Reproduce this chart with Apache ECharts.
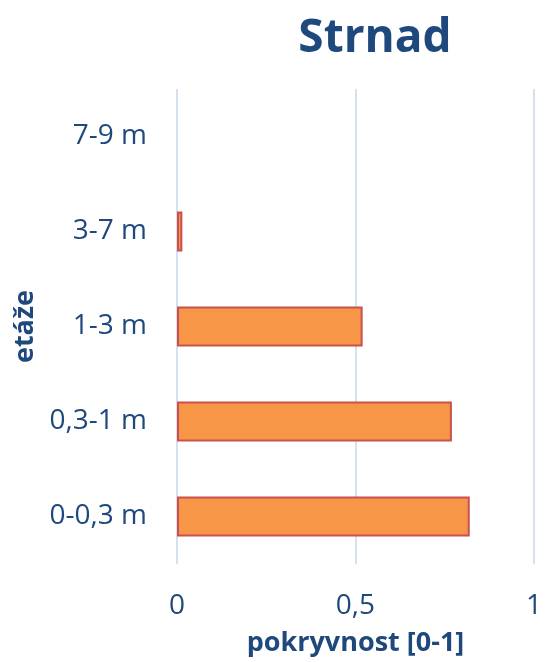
<!DOCTYPE html>
<html>
<head>
<meta charset="utf-8">
<script src="https://cdn.jsdelivr.net/npm/echarts@6/dist/echarts.min.js"></script>
<style>
  html, body { margin: 0; padding: 0; background: #fff; overflow: hidden; }
  #chart { width: 545px; height: 662px; }
</style>
</head>
<body>
<div id="chart"></div>
<script>
// Vegetation layers (bottom to top) and their cover values
const categories = ['0-0,3 m', '0,3-1 m', '1-3 m', '3-7 m', '7-9 m'];
const coverValues = [0.82, 0.77, 0.52, 0.015, 0];
const xTicks = [0, 0.5, 1];

const textColor = '#1F497D';
const font = '"Open Sans", "Noto Sans", sans-serif';

const chart = echarts.init(document.getElementById('chart'), null, { renderer: 'canvas' });

// Zero-length bars get no outline so they stay invisible
const barData = coverValues.map(v => v === 0 ? { value: v, itemStyle: { borderWidth: 0 } } : v);

chart.setOption({
  animation: false,
  title: {
    text: 'Strnad',
    left: 370,
    top: 11,
    textAlign: 'center',
    textStyle: { color: textColor, fontFamily: font, fontSize: 46, fontWeight: 'bold' }
  },
  grid: { left: 177, right: 5, top: 89, bottom: 95, containLabel: false },
  xAxis: {
    type: 'value',
    min: xTicks[0],
    max: xTicks[xTicks.length - 1],
    interval: 0.5,
    name: 'pokryvnost [0-1]',
    nameLocation: 'middle',
    nameGap: 66,
    nameTextStyle: { color: textColor, fontFamily: font, fontSize: 27, fontWeight: 'bold' },
    axisLine: { show: false },
    axisTick: { show: false },
    axisLabel: {
      color: textColor, fontFamily: font, fontSize: 28, margin: 28,
      formatter: v => String(v).replace('.', ',')
    },
    splitLine: { show: true, lineStyle: { color: '#D6E0F0', width: 2 } }
  },
  yAxis: {
    type: 'category',
    data: categories,
    name: 'etáže',
    nameLocation: 'middle',
    nameGap: 137,
    nameRotate: 90,
    nameTextStyle: { color: textColor, fontFamily: font, fontSize: 27, fontWeight: 'bold' },
    axisLine: { show: false },
    axisTick: { show: false },
    axisLabel: { color: textColor, fontFamily: font, fontSize: 28, margin: 30 },
    splitLine: { show: false }
  },
  series: [{
    type: 'bar',
    data: barData,
    barWidth: '42%',
    itemStyle: { color: '#F79646', borderColor: '#C9504F', borderWidth: 2 }
  }]
});
</script>
</body>
</html>
